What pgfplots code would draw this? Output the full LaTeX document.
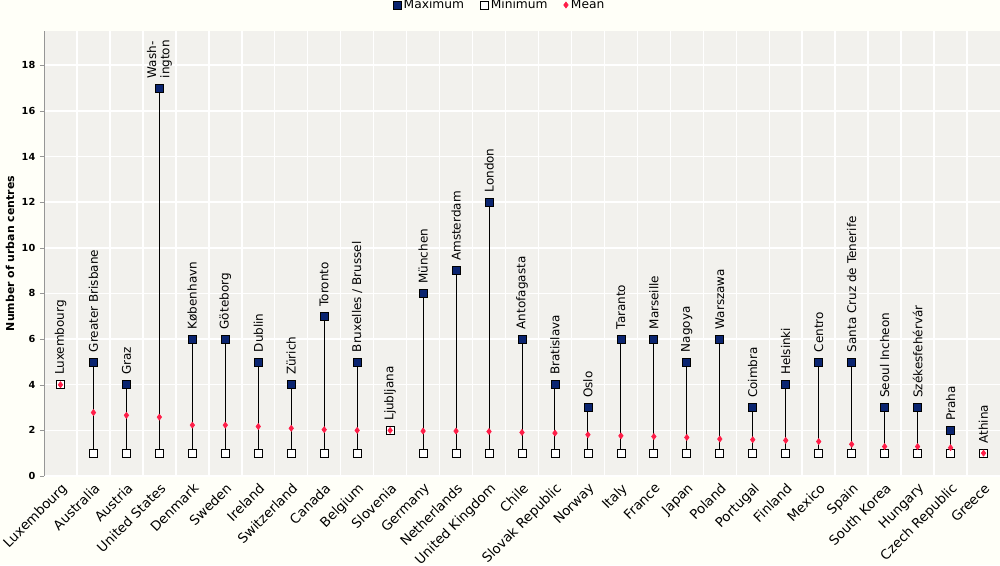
\documentclass[border=0pt]{standalone}
\usepackage{pgfplots}
\pgfplotsset{compat=1.18}
\usepackage{pgfplotstable}
\usepackage{fontspec}
\setmainfont{DejaVu Sans}
\definecolor{navy}{RGB}{10,36,112}
\definecolor{meanred}{RGB}{255,30,72}
\definecolor{plotbg}{RGB}{242,241,237}
\definecolor{outerbg}{RGB}{255,255,248}
\definecolor{axisgray}{RGB}{150,150,150}

\pgfplotstableread{
x max min mean
0 4 4 4.00
1 5 1 2.78
2 4 1 2.66
3 17 1 2.58
4 6 1 2.23
5 6 1 2.23
6 5 1 2.17
7 4 1 2.09
8 7 1 2.03
9 5 1 2.00
10 2 2 2.00
11 8 1 1.97
12 9 1 1.97
13 12 1 1.95
14 6 1 1.91
15 4 1 1.88
16 3 1 1.81
17 6 1 1.76
18 6 1 1.73
19 5 1 1.69
20 6 1 1.62
21 3 1 1.59
22 4 1 1.56
23 5 1 1.51
24 5 1 1.39
25 3 1 1.29
26 3 1 1.29
27 2 1 1.24
28 1 1 1.00
}\data

\begin{document}
\begin{tikzpicture}
\fill[outerbg] (-33pt,-66.75pt) rectangle (717pt,357pt);
\useasboundingbox (-33pt,-66.75pt) rectangle (717pt,357pt);
\begin{axis}[
  scale only axis,
  width=717pt, height=333.75pt,
  xmin=-0.5, xmax=28.5,
  ymin=0, ymax=19.5,
  axis background/.style={fill=plotbg},
  axis x line*=bottom, axis y line*=left,
  x axis line style={draw=none},
  y axis line style={draw=axisgray, -},
  xtick={0,...,28},
  xticklabels={Luxembourg,Australia,Austria,United States,Denmark,Sweden,Ireland,Switzerland,Canada,Belgium,Slovenia,Germany,Netherlands,United Kingdom,Chile,Slovak Republic,Norway,Italy,France,Japan,Poland,Portugal,Finland,Mexico,Spain,South Korea,Hungary,Czech Republic,Greece},
  xticklabel style={rotate=45, anchor=north east, font=\fontsize{10}{12}\selectfont, inner sep=1pt},
  xtick style={draw=none},
  minor xtick={0.5,1.5,...,27.5},
  minor tick length=0pt,
  xminorgrids,
  minor grid style={draw=white, line width=1.1pt},
  ytick={0,2,...,18},
  ymajorgrids,
  major grid style={draw=white, line width=1.1pt},
  ytick style={draw=axisgray},
  tick align=outside,
  major tick length=3pt,
  /pgf/number format/assume math mode=true,
  yticklabel style={font=\bfseries\fontsize{7.3}{8}\selectfont},
  ylabel={Number of urban centres},
  every axis y label/.style={at={(axis description cs:-0.0356,0.5)}, rotate=90, anchor=center, font=\bfseries\fontsize{8.2}{9}\selectfont},
  legend style={at={(0.477,1)}, anchor=center, yshift=19.5pt, draw=none, fill=none,
    font=\fontsize{9.2}{10}\selectfont, legend columns=3,
    /tikz/every even column/.append style={column sep=10pt}},
  legend image code/.code={\draw[#1] plot coordinates {(0.1cm,0cm)};},
  clip=false,
]
% connecting lines
\addplot[only marks, mark=none, forget plot,
  error bars/.cd, y dir=minus, y explicit, error mark=none,
  error bar style={draw=black, line width=0.75pt}]
  table[x=x, y=max, y error expr=\thisrow{max}-\thisrow{min}] {\data};
% maximum with city labels
\addplot[only marks, mark=square*, mark size=3pt,
  mark options={fill=navy, draw=black, line width=0.6pt},
  nodes near coords, point meta=explicit symbolic,
  nodes near coords style={rotate=90, anchor=west, inner xsep=7pt, inner ysep=0pt, align=left,
     font=\fontsize{9}{10}\selectfont, text=black}]
  coordinates {
  (0,4) [Luxembourg]
  (1,5) [Greater Brisbane]
  (2,4) [Graz]
  (3,17) [{Wash-\\ington}]
  (4,6) [København]
  (5,6) [Göteborg]
  (6,5) [Dublin]
  (7,4) [Zürich]
  (8,7) [Toronto]
  (9,5) [Bruxelles / Brussel]
  (10,2) [Ljubljana]
  (11,8) [München]
  (12,9) [Amsterdam]
  (13,12) [London]
  (14,6) [Antofagasta]
  (15,4) [Bratislava]
  (16,3) [Oslo]
  (17,6) [Taranto]
  (18,6) [Marseille]
  (19,5) [Nagoya]
  (20,6) [Warszawa]
  (21,3) [Coimbra]
  (22,4) [Helsinki]
  (23,5) [Centro]
  (24,5) [Santa Cruz de Tenerife]
  (25,3) [Seoul Incheon]
  (26,3) [Székesfehérvár]
  (27,2) [Praha]
  (28,1) [Athina]
  };
\addlegendentry{Maximum}
% minimum
\addplot[only marks, mark=square*, mark size=3pt,
  mark options={fill=white, draw=black, line width=0.6pt}]
  table[x=x, y=min] {\data};
\addlegendentry{Minimum}
% mean
\addplot[only marks, mark=diamond*, mark size=2.3pt,
  mark options={fill=meanred, draw=meanred}]
  table[x=x, y=mean] {\data};
\addlegendentry{Mean}
\end{axis}
\end{tikzpicture}
\end{document}
